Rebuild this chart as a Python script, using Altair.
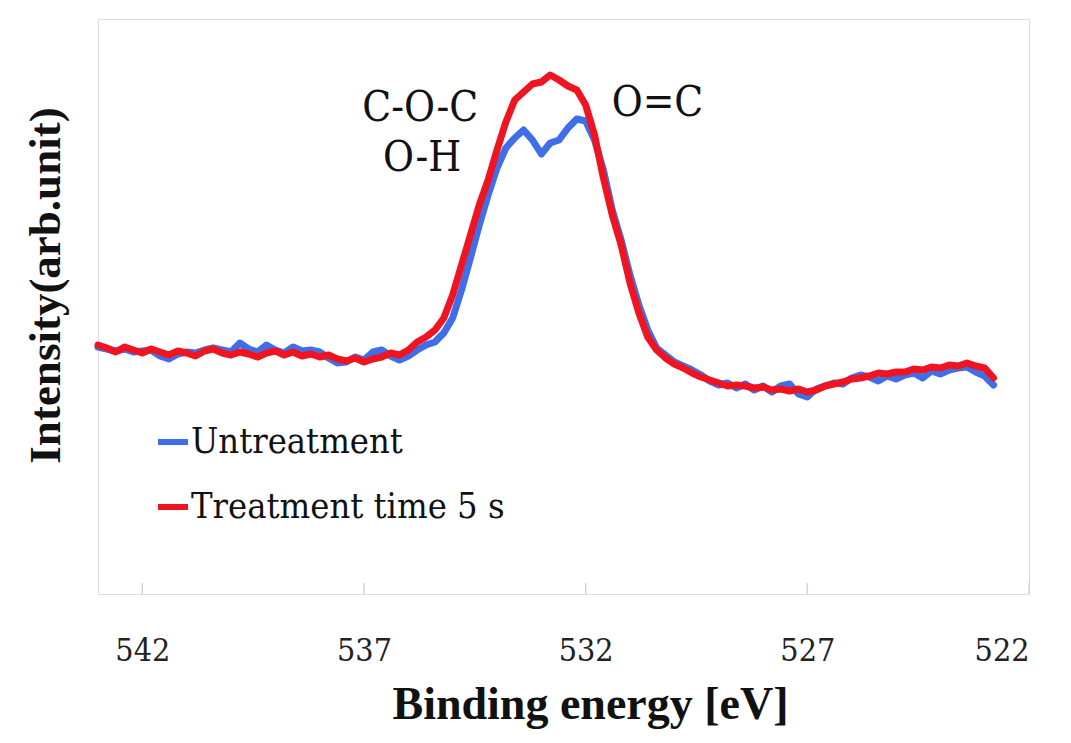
import altair as alt
import numpy as np
import pandas as pd

# Binding energy grid (eV), 543.0 -> 522.8
energy = [round(543.0 - 0.2 * i, 1) for i in range(102)]

untreatment = [
    247, 245, 243, 245, 242, 243, 244, 238, 235, 240,
    242, 241, 244, 246, 244, 242, 251, 245, 242, 249,
    244, 241, 247, 243, 244, 242, 236, 231, 232, 237,
    234, 242, 244, 238, 234, 238, 244, 249, 252, 261,
    276, 304, 336, 369, 399, 426, 446, 456, 464, 454,
    440, 451, 454, 466, 475, 473, 454, 424, 384, 354,
    319, 289, 264, 246, 239, 232, 228, 224, 219, 213,
    209, 211, 206, 210, 204, 208, 202, 208, 210, 200,
    197, 205, 208, 211, 210, 216, 219, 217, 213, 218,
    215, 219, 221, 216, 223, 220, 224, 226, 227, 222,
    218, 209,
]

treatment_5s = [
    249, 246, 242, 247, 244, 241, 245, 242, 239, 243,
    241, 238, 243, 245, 241, 239, 242, 240, 237, 241,
    243, 239, 242, 238, 240, 237, 239, 235, 233, 236,
    232, 235, 237, 241, 239, 244, 252, 257, 264, 276,
    299, 329, 359, 389, 414, 444, 472, 494, 502, 510,
    512, 519, 514, 508, 504, 489, 459, 416, 379, 349,
    311, 281, 257, 244, 236, 230, 226, 221, 217, 214,
    211, 208, 209, 208, 206, 207, 204, 205, 203, 205,
    202, 204, 208, 210, 212, 215, 216, 218, 221, 220,
    222, 222, 225, 224, 227, 226, 229, 228, 231, 228,
    226, 216,
]

assert len(energy) == len(untreatment) == len(treatment_5s)

series_names = ["Untreatment", "Treatment time 5 s"]
series_colors = ["#3f6ee8", "#f01420"]
tick_values = [542, 537, 532, 527, 522]

ann_text = ["C-O-C", "O-H", "O=C"]
ann_energy = [535.73, 535.69, 530.38]
ann_intensity = [486, 436, 491]

df = pd.concat([
    pd.DataFrame({"energy": energy, "intensity": untreatment, "series": series_names[0]}),
    pd.DataFrame({"energy": energy, "intensity": treatment_5s, "series": series_names[1]}),
])
ticks_df = pd.DataFrame({"tick": tick_values})
ann_df = pd.DataFrame({"label": ann_text, "energy": ann_energy, "intensity": ann_intensity})

SERIF_BOLD = "Liberation Serif"
SERIF = "DejaVu Serif Condensed"

x_scale = alt.Scale(domain=[522, 543], reverse=True, nice=False, zero=False)
y_scale = alt.Scale(domain=[0, 575], nice=False, zero=False)

color = alt.Color(
    "series:N",
    scale=alt.Scale(domain=series_names, range=series_colors),
    legend=alt.Legend(
        title=None,
        orient="none",
        legendX=57,
        legendY=405,
        symbolType="stroke",
        symbolSize=900,
        symbolStrokeWidth=6,
        labelFont=SERIF,
        labelFontSize=36,
        labelColor="#111111",
        labelOffset=0,
        rowPadding=29,
        labelLimit=600,
    ),
)

x_enc = alt.X(
    "energy:Q",
    scale=x_scale,
    axis=alt.Axis(
        values=tick_values,
        title="Binding energy [eV]",
        titleFont=SERIF_BOLD,
        titleFontSize=46,
        titleFontWeight="bold",
        titleColor="#111111",
        titleX=492,
        titleY=110,
        titleAlign="center",
        titleBaseline="middle",
        labelFont=SERIF,
        labelFontSize=32,
        labelColor="#222222",
        labelPadding=56,
        labelBaseline="middle",
        ticks=False,
        tickSize=0,
        domain=False,
        grid=False,
    ),
)
y_enc = alt.Y(
    "intensity:Q",
    scale=y_scale,
    axis=alt.Axis(
        title="Intensity(arb.unit)",
        titleFont=SERIF_BOLD,
        titleFontSize=45,
        titleFontWeight="bold",
        titleColor="#111111",
        titleX=-53,
        titleY=266,
        titleAngle=270,
        titleAlign="center",
        titleBaseline="middle",
        labels=False,
        ticks=False,
        domain=False,
        grid=False,
    ),
)

line_blue = alt.Chart(df).transform_filter(
    alt.datum.series == series_names[0]
).mark_line(strokeWidth=7, strokeCap="round", strokeJoin="round").encode(
    x=x_enc, y=y_enc, color=color
)
line_red = alt.Chart(df).transform_filter(
    alt.datum.series == series_names[1]
).mark_line(strokeWidth=7, strokeCap="round", strokeJoin="round").encode(
    x=x_enc, y=y_enc, color=color
)

tick_marks = alt.Chart(ticks_df).mark_rule(color="#d4d4d4", strokeWidth=1.5).encode(
    x=alt.X("tick:Q", scale=x_scale),
    y=alt.value(575),
    y2=alt.value(564),
)

annotations = alt.Chart(ann_df).mark_text(
    font=SERIF, fontSize=42, color="#111111", align="center", baseline="middle"
).encode(
    x=alt.X("energy:Q", scale=x_scale),
    y=alt.Y("intensity:Q", scale=y_scale),
    text="label:N",
)

chart = alt.layer(tick_marks, line_blue, line_red, annotations).properties(
    width=931,
    height=575,
    autosize=alt.AutoSizeParams(type="none"),
    padding={"left": 90, "top": 11, "right": 34, "bottom": 136},
).configure_view(
    stroke="#d6d6d6", strokeWidth=1.5
).configure(background="white")

chart.save("out.html", embed_options={"renderer": "svg", "actions": False})
